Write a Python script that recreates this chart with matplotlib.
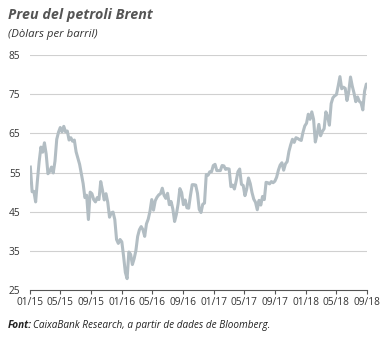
import matplotlib
matplotlib.use("Agg")
import matplotlib.pyplot as plt
import pandas as pd

plt.rcParams['font.family'] = ['Open Sans', 'DejaVu Sans']

# weekly Brent price (USD/barrel)
p2015 = [56.4, 50.1, 50.2, 47.5, 52.9,
         57.8, 61.5, 60.2, 62.6,
         59.7, 54.7, 55.3, 56.4,
         54.9, 57.9, 63.5, 65.3,
         66.5, 65.4, 66.8, 65.4, 65.6,
         63.3, 63.9, 63.0, 63.3,
         60.3, 58.7, 57.1, 54.6, 52.2,
         48.6, 49.2, 43.0, 50.0,
         49.6, 48.1, 47.5, 48.6,
         48.1, 52.7, 50.5, 48.0, 49.6,
         47.4, 43.6, 44.7, 44.9,
         43.0, 37.9, 36.9, 37.9]
p2016 = [37.3, 33.6, 29.5, 27.9, 34.7,
         34.1, 31.5, 33.0, 35.1,
         38.7, 40.4, 41.2, 40.4,
         38.7, 41.9, 43.1, 45.1, 48.1,
         45.4, 47.8, 48.7, 49.3,
         49.6, 51.0, 49.2, 48.4,
         49.7, 46.8, 47.6, 45.7, 42.5,
         44.3, 47.0, 50.9, 49.9,
         46.8, 48.0, 46.0, 45.9, 49.1,
         51.9, 51.9, 51.8, 49.7,
         45.6, 44.8, 46.9, 47.2,
         54.5, 54.3, 55.2, 55.2, 56.8]
p2017 = [57.1, 55.5, 55.5, 55.5,
         56.8, 56.7, 55.8, 56.0,
         55.9, 51.4, 51.8, 50.8, 52.8,
         55.2, 55.9, 52.0, 51.7,
         49.1, 50.8, 53.6, 52.2,
         49.9, 48.2, 47.4, 45.5, 47.9,
         46.7, 48.9, 48.1, 52.5,
         52.4, 52.1, 52.7, 52.4,
         52.8, 53.8, 55.6, 56.9, 57.5,
         55.6, 57.2, 57.8, 60.4,
         62.1, 63.5, 62.7, 63.9,
         63.7, 63.4, 63.2, 65.3, 66.9]
p2018 = [67.6, 69.9, 68.6, 70.5,
         68.6, 62.8, 64.8, 67.3,
         64.4, 65.5, 66.2, 70.5, 69.3,
         67.1, 72.6, 74.1, 74.6,
         74.9, 77.1, 79.5, 76.4,
         76.8, 76.5, 73.4, 75.6, 79.4,
         77.1, 75.3, 73.1, 74.3,
         73.2, 72.8, 71.0, 75.8, 77.6,
         76.8]
prices = p2015 + p2016 + p2017 + p2018
dates = pd.date_range('2015-01-02', periods=len(prices), freq='W-FRI')

tick_dates = pd.date_range('2015-01-01', '2018-09-01', freq='4MS')
tick_labels = [d.strftime('%m/%y') for d in tick_dates]
y_ticks = [25, 35, 45, 55, 65, 75, 85]

fig = plt.figure(figsize=(3.86, 3.38), dpi=100)
ax = fig.add_axes([0.078, 0.142, 0.873, 0.695])

for y in y_ticks[1:]:
    ax.axhline(y, color='#d0d0d0', lw=0.8, zorder=1)
ax.plot(dates, prices, color='#b2bdc3', lw=2.2, zorder=3, solid_joinstyle='round')

ax.set_ylim(25, 85)
ax.set_xlim(pd.Timestamp('2015-01-01'), pd.Timestamp('2018-09-03'))
ax.set_yticks(y_ticks)
ax.set_xticks(tick_dates)
ax.set_xticklabels(tick_labels)
for s in ['top', 'right', 'left']:
    ax.spines[s].set_visible(False)
ax.spines['bottom'].set_color('#555555')
ax.spines['bottom'].set_linewidth(0.8)
ax.tick_params(axis='y', length=0, pad=7, labelsize=7.3, labelcolor='#333333')
ax.tick_params(axis='x', length=3, width=0.8, color='#555555', pad=2,
               labelsize=7.3, labelcolor='#333333')

fig.text(0.02, 0.955, 'Preu del petroli Brent', fontsize=10.3, fontweight='bold',
         fontstyle='italic', color='#555555', va='center')
fig.text(0.02, 0.898, '(Dòlars per barril)', fontsize=8.2, fontstyle='italic',
         color='#333333', va='center')
t1 = fig.text(0.02, 0.038, 'Font:', fontsize=7.2, fontweight='bold', fontstyle='italic',
              color='#222222', va='center')
fig.canvas.draw()
bb = t1.get_window_extent().transformed(fig.transFigure.inverted())
fig.text(bb.x1 + 0.004, 0.038, 'CaixaBank Research, a partir de dades de Bloomberg.',
         fontsize=7.2, fontstyle='italic', color='#222222', va='center')

fig.savefig('out.png', dpi=100)
